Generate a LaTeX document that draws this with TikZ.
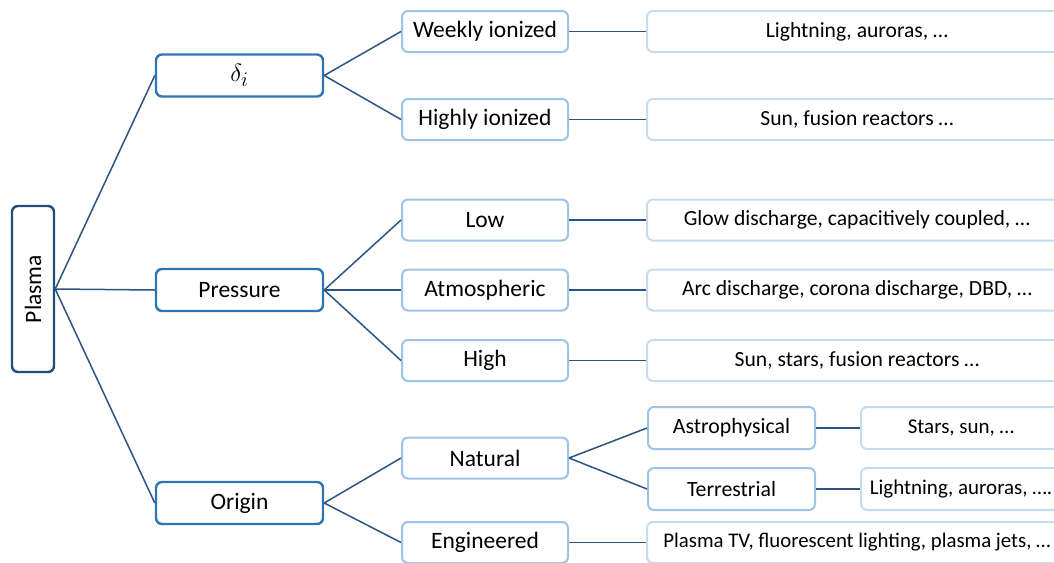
\documentclass[tikz,border=0pt]{standalone}
\usepackage{fontspec}
\setmainfont{Carlito}
\definecolor{rootblue}{RGB}{31,78,121}
\definecolor{catblue}{RGB}{46,117,182}
\definecolor{subblue}{RGB}{157,195,230}
\definecolor{leafblue}{RGB}{197,220,240}
\definecolor{linkblue}{RGB}{44,84,130}

\begin{document}
\begin{tikzpicture}[x=1pt,y=-1pt,
  box/.style={draw,rounded corners=6pt,line width=2.4pt,fill=white,inner sep=0pt,
    font=\fontsize{23.5}{27}\selectfont},
  rootbox/.style={box,draw=rootblue,minimum width=42pt,minimum height=166pt},
  catbox/.style={box,draw=catblue,minimum width=167pt,minimum height=42pt},
  subbox/.style={box,draw=subblue,line width=2pt,minimum width=166pt,minimum height=41pt},
  leafbox/.style={box,draw=leafblue,line width=2pt,minimum width=420pt,minimum height=41pt,
    font=\fontsize{21.6}{25}\selectfont},
  smallbox/.style={box,draw=subblue,line width=2pt,minimum width=167pt,minimum height=42pt,
    font=\fontsize{21.8}{25}\selectfont},
  smallleaf/.style={leafbox,minimum width=200pt,minimum height=42pt,font=\fontsize{21}{25}\selectfont},
  link/.style={draw=linkblue,line width=1.5pt}]
\clip (0,0) rectangle (1054,562);

\node[rootbox] (plasma) at (33,289) {\rotatebox{90}{Plasma}};

\node[catbox,font=\fontsize{28}{30}\selectfont] (delta) at (239.5,75.5) {$\delta_i$};
\node[catbox] (pressure) at (239.5,290) {Pressure};
\node[catbox] (origin) at (239.5,503) {Origin};

\node[subbox] (weekly) at (485,31.5) {Weekly ionized};
\node[subbox] (highly) at (485,119.5) {Highly ionized};
\node[subbox] (low) at (485,220) {Low};
\node[subbox] (atmo) at (485,290) {Atmospheric};
\node[subbox] (high) at (485,360.5) {High};
\node[subbox] (natural) at (485,458) {Natural};
\node[subbox] (engineered) at (485,542.5) {Engineered};

\node[leafbox] (lightning) at (857,31.5) {Lightning, auroras, …};
\node[leafbox] (sunfusion) at (857,119.5) {Sun, fusion reactors …};
\node[leafbox] (glow) at (857,220) {Glow discharge, capacitively coupled, …};
\node[leafbox] (arc) at (857,290) {Arc discharge, corona discharge, DBD, …};
\node[leafbox] (sunstars) at (857,360.5) {Sun, stars, fusion reactors …};
\node[leafbox,font=\fontsize{20.8}{25}\selectfont] (plasmatv) at (857,542.5) {Plasma TV, fluorescent lighting, plasma jets, …};

\node[smallbox] (astro) at (731.5,428) {Astrophysical};
\node[smallbox] (terrestrial) at (731.5,489) {Terrestrial};
\node[smallleaf] (stars) at (961,428) {Stars, sun, …};
\node[smallleaf] (lightningb) at (961,489) {Lightning, auroras, ….};

\draw[link] (plasma.east) -- (delta.west);
\draw[link] (plasma.east) -- (pressure.west);
\draw[link] (plasma.east) -- (origin.west);
\draw[link] (delta.east) -- (weekly.west);
\draw[link] (delta.east) -- (highly.west);
\draw[link] (pressure.east) -- (low.west);
\draw[link] (pressure.east) -- (atmo.west);
\draw[link] (pressure.east) -- (high.west);
\draw[link] (origin.east) -- (natural.west);
\draw[link] (origin.east) -- (engineered.west);
\draw[link] (weekly.east) -- (lightning.west);
\draw[link] (highly.east) -- (sunfusion.west);
\draw[link] (low.east) -- (glow.west);
\draw[link] (atmo.east) -- (arc.west);
\draw[link] (high.east) -- (sunstars.west);
\draw[link] (engineered.east) -- (plasmatv.west);
\draw[link] (natural.east) -- (astro.west);
\draw[link] (natural.east) -- (terrestrial.west);
\draw[link] (astro.east) -- (stars.west);
\draw[link] (terrestrial.east) -- (lightningb.west);
\end{tikzpicture}
\end{document}
